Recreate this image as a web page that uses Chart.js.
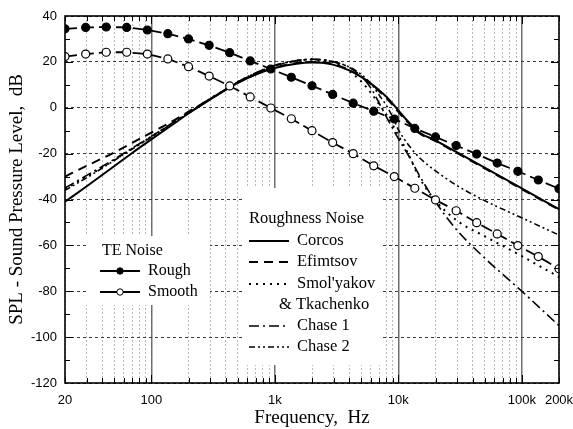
<!DOCTYPE html>
<html>
<head>
<meta charset="utf-8">
<script src="https://cdn.jsdelivr.net/npm/chart.js@4.4.1/dist/chart.umd.min.js"></script>
<style>
  html, body { margin: 0; padding: 0; background: #fff; }
  #wrap { width: 573px; height: 429px; }
</style>
</head>
<body>
<div id="wrap"><canvas id="splChart" width="573" height="429"></canvas></div>
<script>
// TE noise, 1/6-decade band centres (Hz) and levels (dB)
const teFreq = [20, 29.4, 43.1, 63.2, 92.8, 136, 200, 294, 431, 632, 928, 1360,
    2000, 2940, 4310, 6320, 9280, 13600, 20000, 29400, 43100, 63200, 92800, 136000, 200000];
const teRough = [34.4, 35, 35.2, 35, 33.9, 32.3, 30, 27.2, 24, 20.4, 16.9, 13.3,
    9.6, 5.8, 2, -1.5, -4.9, -9, -12.7, -16.5, -20.2, -24.1, -27.7, -31.5, -35.3];
const teSmooth = [22.3, 23.4, 24.2, 24.2, 23.4, 21.3, 17.9, 13.8, 9.5, 4.7, -0.1, -4.8,
    -10, -15.2, -20, -25.3, -30, -35.1, -40.2, -44.9, -50.1, -55, -60.1, -64.9, -70.2];

// Roughness noise models
const rnFreq = [20, 30, 50, 70, 100, 150, 200, 300, 400, 500, 700, 1000, 1500, 2000, 2500,
    3000, 4000, 5000, 6000, 7000, 8000, 9000, 10000, 12000, 15000, 20000, 30000, 50000, 100000, 200000];
const corcos = [-41, -34.2, -25.5, -19.7, -13.8, -7.2, -2.5, 3.6, 7.8, 10.8, 14.5, 17.3, 19.2, 19.7, 19.5,
    18.7, 16.3, 13.5, 10.5, 7.6, 4.8, 1.8, -1.2, -6, -11, -14.2, -19.5, -26.1, -35.2, -44.2];
const efimtsov = [-30, -25.3, -19.5, -15.3, -10.8, -5.7, -1.7, 3.8, 7.9, 10.9, 14.6, 17.5, 19.5, 20, 19.8,
    19, 16.5, 13.5, 10.3, 7.2, 4.2, 1.2, -1.8, -6.5, -11.3, -14.5, -19.8, -26.4, -35.5, -44.5];
const smolyakov = [-35.5, -30, -22.8, -17.8, -12.6, -6.5, -2.2, 3.9, 8, 11.2, 15, 18.3, 20.4, 21, 20.7,
    19.8, 16, 11.5, 6.5, 1.5, -3, -7.5, -12, -20, -31, -40.5, -49.3, -56, -64.7, -73.8];
const chase1 = [-35, -29.5, -22.5, -17.6, -12.5, -6.4, -2.1, 4, 8.1, 11.3, 15.2, 18.5, 20.6, 21.2, 20.9,
    20, 17.6, 13.8, 8.5, 2, -4, -9, -13.5, -20.5, -30, -41, -53.5, -65.5, -80, -95];
const chase2 = [-36, -30.5, -23, -18, -12.8, -6.6, -2.3, 3.8, 7.9, 11.1, 15, 18.3, 20.5, 21, 20.8,
    20, 17.8, 14.5, 10.5, 5.5, 1, -4, -9.5, -16, -22, -27.5, -34, -40.5, -48, -55.5];

// Axis ticks
const yTicks = [-120, -100, -80, -60, -40, -20, 0, 20, 40];
const xLabelValues = [20, 100, 1000, 10000, 100000, 200000];
const xLabelText = ['20', '100', '1k', '10k', '100k', '200k'];

const serif = "'Liberation Serif', 'Times New Roman', serif";
const sans = "'Liberation Sans', Arial, sans-serif";

function pairs(xs, ys) {
    return xs.map((x, i) => ({ x: x, y: ys[i] }));
}

function isDecade(v) {
    return [100, 1000, 10000, 100000].includes(v);
}

function gridValues() {
    const vals = [];
    for (let d = 10; d <= 100000; d *= 10) {
        for (let m = 1; m <= 9; m++) {
            const v = d * m;
            if (v >= 20 && v <= 200000) vals.push(v);
        }
    }
    return vals;
}

const lineStyles = {
    corcos:    { dash: [], width: 2 },
    efimtsov:  { dash: [9, 6], width: 2 },
    smolyakov: { dash: [2, 5], width: 2 },
    chase1:    { dash: [10, 4, 2, 4], width: 1.6 },
    chase2:    { dash: [6, 3, 2, 3, 2, 3], width: 1.6 }
};

function roughSet(label, values, style) {
    return {
        label: label,
        data: pairs(rnFreq, values),
        borderColor: '#000',
        borderWidth: style.width,
        borderDash: style.dash,
        pointRadius: 0,
        cubicInterpolationMode: 'monotone',
        clip: 0
    };
}

// White legend panels drawn over the grid, under the curves
const legendPanels = {
    id: 'legendPanels',
    beforeDatasetsDraw(chart) {
        const ctx = chart.ctx;
        ctx.save();
        ctx.fillStyle = '#fff';
        ctx.fillRect(86, 236, 124, 69);
        ctx.fillRect(242, 188, 139, 177);

        ctx.fillStyle = '#000';
        ctx.strokeStyle = '#000';
        ctx.font = '16px ' + serif;
        ctx.textBaseline = 'middle';
        ctx.textAlign = 'left';

        // TE noise
        ctx.fillText('TE Noise', 102, 251);
        const teRows = [['Rough', '#000', 271], ['Smooth', '#fff', 292]];
        teRows.forEach(r => {
            ctx.setLineDash([]);
            ctx.lineWidth = 2;
            ctx.beginPath();
            ctx.moveTo(100, r[2]);
            ctx.lineTo(140, r[2]);
            ctx.stroke();
            ctx.beginPath();
            ctx.arc(120, r[2], 3.2, 0, Math.PI * 2);
            ctx.fillStyle = r[1];
            ctx.fill();
            ctx.lineWidth = 1;
            ctx.stroke();
            ctx.fillStyle = '#000';
            ctx.fillText(r[0], 148, r[2]);
        });

        // Roughness noise
        ctx.font = '16.5px ' + serif;
        ctx.fillText('Roughness Noise', 249, 219);
        const rnRows = [
            ['Corcos', lineStyles.corcos, 241],
            ['Efimtsov', lineStyles.efimtsov, 262],
            ["Smol'yakov", lineStyles.smolyakov, 284],
            ['Chase 1', lineStyles.chase1, 326],
            ['Chase 2', lineStyles.chase2, 347]
        ];
        rnRows.forEach(r => {
            ctx.setLineDash(r[1].dash);
            ctx.lineWidth = r[1].width;
            ctx.beginPath();
            ctx.moveTo(249, r[2]);
            ctx.lineTo(289, r[2]);
            ctx.stroke();
            ctx.setLineDash([]);
            ctx.fillText(r[0], 297, r[2]);
        });
        ctx.fillText('& Tkachenko', 279, 305);
        ctx.restore();
    }
};

// Plot frame and inward tick marks
const frameTicks = {
    id: 'frameTicks',
    afterDraw(chart) {
        const ctx = chart.ctx;
        const a = chart.chartArea;
        const xs = chart.scales.x;
        const ys = chart.scales.y;
        ctx.save();
        ctx.strokeStyle = '#000';
        ctx.lineWidth = 1;
        ctx.setLineDash([]);
        ctx.beginPath();
        gridValues().forEach(v => {
            const px = Math.round(xs.getPixelForValue(v)) + 0.5;
            const len = isDecade(v) ? 8 : 5;
            ctx.moveTo(px, a.bottom);
            ctx.lineTo(px, a.bottom - len);
            ctx.moveTo(px, a.top);
            ctx.lineTo(px, a.top + len);
        });
        for (let v = -110; v < 40; v += 10) {
            const py = Math.round(ys.getPixelForValue(v)) + 0.5;
            const len = v % 20 === 0 ? 8 : 5;
            ctx.moveTo(a.left, py);
            ctx.lineTo(a.left + len, py);
            ctx.moveTo(a.right, py);
            ctx.lineTo(a.right - len, py);
        }
        ctx.stroke();
        ctx.lineWidth = 1.6;
        ctx.strokeRect(a.left, a.top, a.right - a.left, a.bottom - a.top);
        ctx.restore();
    }
};

const ctx = document.getElementById('splChart').getContext('2d');

new Chart(ctx, {
    type: 'line',
    data: {
        datasets: [
            {
                label: 'Rough',
                data: pairs(teFreq, teRough),
                borderColor: '#000',
                borderWidth: 1.8,
                borderDash: [12, 5],
                pointRadius: 4,
                pointBorderWidth: 1.2,
                pointBackgroundColor: '#000',
                pointBorderColor: '#000',
                clip: 0
            },
            {
                label: 'Smooth',
                data: pairs(teFreq, teSmooth),
                borderColor: '#000',
                borderWidth: 1.8,
                borderDash: [12, 5],
                pointRadius: 4,
                pointBorderWidth: 1.2,
                pointBackgroundColor: '#fff',
                pointBorderColor: '#000',
                clip: 0
            },
            roughSet('Corcos', corcos, lineStyles.corcos),
            roughSet('Efimtsov', efimtsov, lineStyles.efimtsov),
            roughSet("Smol'yakov & Tkachenko", smolyakov, lineStyles.smolyakov),
            roughSet('Chase 1', chase1, lineStyles.chase1),
            roughSet('Chase 2', chase2, lineStyles.chase2)
        ]
    },
    options: {
        responsive: false,
        animation: false,
        devicePixelRatio: 1,
        events: [],
        layout: {
            padding: { top: 16, right: 14, bottom: 0, left: 0 }
        },
        plugins: {
            legend: { display: false },
            tooltip: { enabled: false }
        },
        scales: {
            x: {
                type: 'logarithmic',
                min: 20,
                max: 200000,
                afterBuildTicks: (scale) => {
                    scale.ticks = gridValues().map(v => ({ value: v, major: isDecade(v) }));
                },
                afterFit: (scale) => {
                    scale.height = 46;
                    scale.paddingLeft = 0;
                    scale.paddingRight = 0;
                },
                grid: {
                    drawTicks: false,
                    color: (c) => c.tick && isDecade(c.tick.value) ? '#6f6f6f' : '#b8b8b8',
                    lineWidth: (c) => c.tick && isDecade(c.tick.value) ? 1.5 : 1
                },
                border: {
                    display: false,
                    dash: (c) => c.tick && isDecade(c.tick.value) ? [] : [2, 2]
                },
                ticks: {
                    autoSkip: false,
                    maxRotation: 0,
                    padding: 10,
                    color: '#000',
                    font: { family: sans, size: 13 },
                    callback: (value) => {
                        const i = xLabelValues.indexOf(value);
                        return i >= 0 ? xLabelText[i] : '';
                    }
                },
                title: {
                    display: true,
                    text: 'Frequency,  Hz',
                    color: '#000',
                    font: { family: serif, size: 19 },
                    padding: { top: 0, bottom: 0 }
                }
            },
            y: {
                min: -120,
                max: 40,
                afterBuildTicks: (scale) => {
                    scale.ticks = yTicks.map(v => ({ value: v }));
                },
                afterFit: (scale) => {
                    scale.width = 65;
                    scale.paddingTop = 0;
                    scale.paddingBottom = 0;
                },
                grid: {
                    drawTicks: false,
                    color: '#3a3a3a',
                    lineWidth: 1
                },
                border: {
                    display: false,
                    dash: [3, 3]
                },
                ticks: {
                    padding: 8,
                    color: '#000',
                    font: { family: sans, size: 13 }
                },
                title: {
                    display: true,
                    text: 'SPL - Sound Pressure Level,  dB',
                    color: '#000',
                    font: { family: serif, size: 19 },
                    padding: { top: 6, bottom: 0 }
                }
            }
        }
    },
    plugins: [legendPanels, frameTicks]
});
</script>
</body>
</html>
